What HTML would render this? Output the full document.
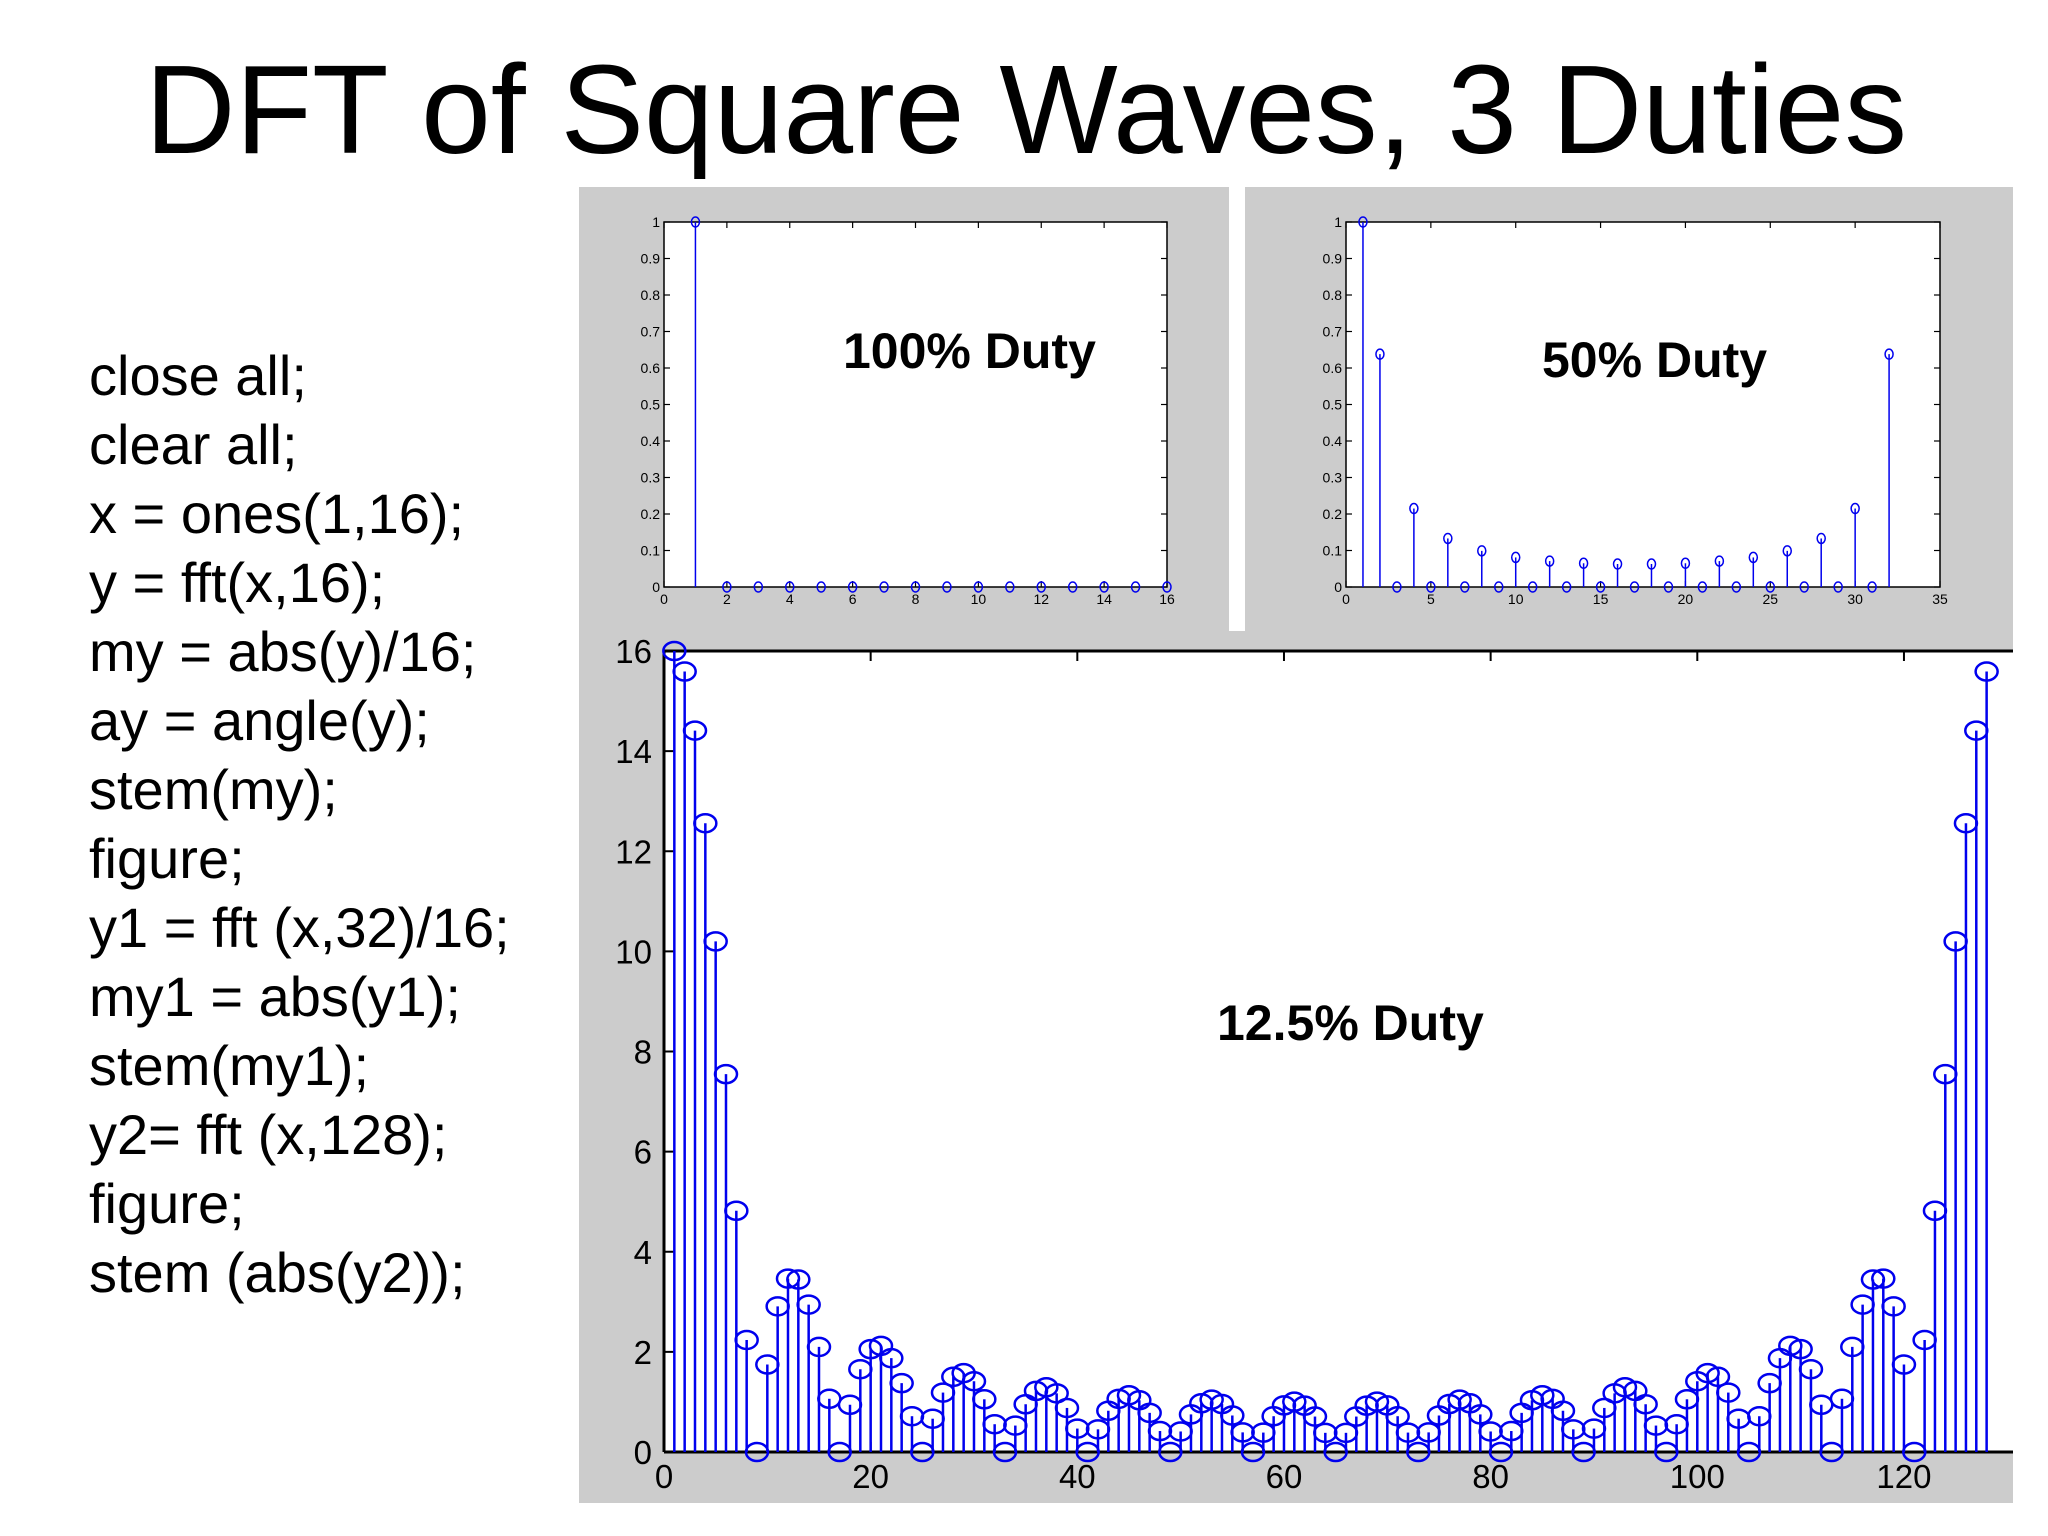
<!DOCTYPE html>
<html><head><meta charset="utf-8"><style>
html,body{margin:0;padding:0;background:#fff;}
svg{display:block;font-family:"Liberation Sans",Arial,sans-serif;}
</style></head><body>
<svg id="root" width="2048" height="1536" viewBox="0 0 2048 1536">
<rect x="0" y="0" width="2048" height="1536" fill="#fff"/>
<text x="1026" y="153" font-size="126" text-anchor="middle" textLength="1762" lengthAdjust="spacingAndGlyphs">DFT of Square Waves, 3 Duties</text>
<g id="code" font-size="56">
<text x="89" y="395">close all;</text>
<text x="89" y="464">clear all;</text>
<text x="89" y="533">x = ones(1,16);</text>
<text x="89" y="602">y  = fft(x,16);</text>
<text x="89" y="671">my = abs(y)/16;</text>
<text x="89" y="740">ay = angle(y);</text>
<text x="89" y="809">stem(my);</text>
<text x="89" y="878">figure;</text>
<text x="89" y="947">y1 = fft (x,32)/16;</text>
<text x="89" y="1016">my1 = abs(y1);</text>
<text x="89" y="1085">stem(my1);</text>
<text x="89" y="1154">y2= fft (x,128);</text>
<text x="89" y="1223">figure;</text>
<text x="89" y="1292">stem (abs(y2));</text>
</g>
<rect x="579" y="187" width="1434" height="1316" fill="#cccccc"/>
<rect x="1229" y="187" width="16" height="444" fill="#fff"/>
<g id="charts"></g>
</svg>
<script>
const duty100Values=[1,0,0,0,0,0,0,0,0,0,0,0,0,0,0,0];
const duty100XTicks=[0,2,4,6,8,10,12,14,16];
const duty50Values=[1,0.638,0,0.215,0,0.133,0,0.099,0,0.081,0,0.071,0,0.065,0,0.063,0,0.063,0,0.065,0,0.071,0,0.081,0,0.099,0,0.133,0,0.215,0,0.638];
const duty50XTicks=[0,5,10,15,20,25,30,35];
const smallYTicks=[0,0.1,0.2,0.3,0.4,0.5,0.6,0.7,0.8,0.9,1];
const duty125Half=[16,15.59,14.41,12.56,10.20,7.548,4.819,2.238,0,1.747,2.910,3.464,3.445,2.945,2.099,1.063,0,0.944,1.654,2.055,2.121,1.874,1.375,0.715,0,0.665,1.187,1.502,1.576,1.414,1.053,0.555,0,0.528,0.954,1.220,1.294,1.172,0.880,0.468,0,0.453,0.824,1.062,1.134,1.034,0.782,0.419,0,0.410,0.751,0.973,1.045,0.959,0.729,0.392,0,0.388,0.715,0.931,1.005,0.926,0.708,0.383,0];
const duty125Mirror=[0.383,0.708,0.926,1.005,0.931,0.715,0.388,0,0.392,0.729,0.959,1.045,0.973,0.751,0.410,0,0.419,0.782,1.034,1.134,1.062,0.824,0.453,0,0.468,0.880,1.172,1.294,1.220,0.954,0.528,0,0.555,1.053,1.414,1.576,1.502,1.187,0.665,0,0.715,1.375,1.874,2.121,2.055,1.654,0.944,0,1.063,2.099,2.945,3.445,3.464,2.910,1.747,0,2.238,4.819,7.548,10.20,12.56,14.41,15.59];
const duty125Values=duty125Half.concat(duty125Mirror);
const bigXTicks=[0,20,40,60,80,100,120];
const bigYTicks=[0,2,4,6,8,10,12,14,16];

const NS="http://www.w3.org/2000/svg";
const root=document.getElementById('charts');
function mk(tag,attrs,parent){const e=document.createElementNS(NS,tag);for(const k in attrs)e.setAttribute(k,attrs[k]);(parent||root).appendChild(e);return e;}

function smallChart(name,L,R,T,B,xmax,vals,xticks,title,tx,ty){
  const g=mk('g',{});
  
  
  const sx=v=>L+(R-L)*v/xmax, sy=v=>B-(B-T)*v;
  const bg=mk('rect',{x:L,y:T,width:R-L,height:B-T,fill:'#fff',stroke:'#000','stroke-width':1.5},g);
  
  
  smallYTicks.forEach(v=>{
    mk('line',{x1:L,x2:L+6,y1:sy(v),y2:sy(v),stroke:'#000','stroke-width':1.2},g);
    mk('line',{x1:R,x2:R-6,y1:sy(v),y2:sy(v),stroke:'#000','stroke-width':1.2},g);
    const t=mk('text',{x:L-4,y:sy(v)+5,'font-size':14,'text-anchor':'end'},g);
    t.textContent=String(v);
    
    
  });
  xticks.forEach(v=>{
    mk('line',{x1:sx(v),x2:sx(v),y1:B,y2:B-6,stroke:'#000','stroke-width':1.2},g);
    mk('line',{x1:sx(v),x2:sx(v),y1:T,y2:T+6,stroke:'#000','stroke-width':1.2},g);
    const t=mk('text',{x:sx(v),y:B+17,'font-size':14,'text-anchor':'middle'},g);
    t.textContent=String(v);
    
    
  });
  vals.forEach((v,i)=>{
    const x=sx(i+1);
    const s=mk('line',{x1:x,x2:x,y1:B,y2:sy(v),stroke:'#0000ee','stroke-width':1.5},g);
    
    
    const c=mk('ellipse',{cx:x,cy:sy(v),rx:4,ry:5,fill:'none',stroke:'#0000ee','stroke-width':1.5},g);
    
    
  });
  const tt=mk('text',{x:tx,y:ty,'font-size':50,'font-weight':'bold'},g);
  tt.textContent=title;
  
  
}
smallChart('chart-100-duty',664,1167,222,587,16,duty100Values,duty100XTicks,'100% Duty',843,368);
smallChart('chart-50-duty',1346,1940,222,587,35,duty50Values,duty50XTicks,'50% Duty',1542,377);

(function(){
  const L=664,B=1452,T=651,R=2013;
  const sx=v=>L+10.333*v, sy=v=>B-(B-T)/16*v;
  const g=mk('g',{});
  
  
  const bg=mk('rect',{x:L,y:T,width:R-L,height:B-T,fill:'#fff'},g);
  
  
  mk('line',{x1:L,x2:R,y1:T,y2:T,stroke:'#000','stroke-width':3},g);
  mk('line',{x1:L,x2:R,y1:B,y2:B,stroke:'#000','stroke-width':3},g);
  mk('line',{x1:L,x2:L,y1:T,y2:B,stroke:'#000','stroke-width':3},g);
  bigYTicks.forEach(v=>{
    mk('line',{x1:L,x2:L+10,y1:sy(v),y2:sy(v),stroke:'#000','stroke-width':2},g);
    const t=mk('text',{x:L-12,y:sy(v)+12,'font-size':33,'text-anchor':'end'},g);
    t.textContent=String(v);
    
    
  });
  bigXTicks.forEach(v=>{
    mk('line',{x1:sx(v),x2:sx(v),y1:T,y2:T+10,stroke:'#000','stroke-width':2},g);
    mk('line',{x1:sx(v),x2:sx(v),y1:B,y2:B-10,stroke:'#000','stroke-width':2},g);
    const t=mk('text',{x:sx(v),y:1488,'font-size':33,'text-anchor':'middle'},g);
    t.textContent=String(v);
    
    
  });
  duty125Values.forEach((v,i)=>{
    const x=sx(i+1);
    const s=mk('line',{x1:x,x2:x,y1:B,y2:sy(v),stroke:'#0000ee','stroke-width':2.5},g);
    
    
    const c=mk('ellipse',{cx:x,cy:sy(v),rx:11,ry:9,fill:'none',stroke:'#0000ee','stroke-width':2.5},g);
    
    
  });
  const tt=mk('text',{x:1217,y:1040,'font-size':50,'font-weight':'bold'},g);
  tt.textContent='12.5% Duty';
  
  
})();
</script>
</body></html>
